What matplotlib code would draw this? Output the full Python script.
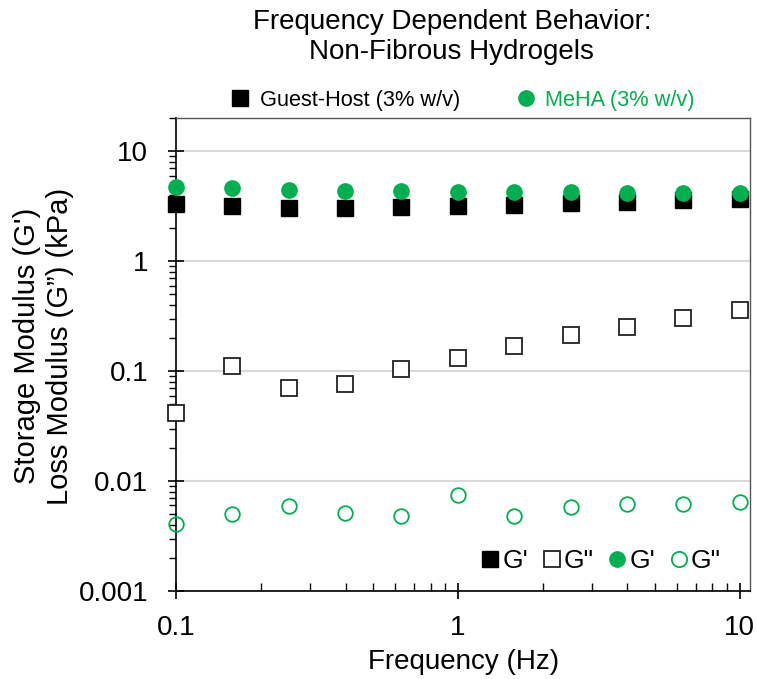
import matplotlib
matplotlib.use("Agg")
import matplotlib.pyplot as plt
from matplotlib.lines import Line2D
from matplotlib.ticker import LogLocator, FixedFormatter, FixedLocator, NullFormatter

plt.rcParams['font.family'] = ['Liberation Sans', 'DejaVu Sans']

# frequency sweep (Hz)
freq = [0.1, 0.158, 0.251, 0.398, 0.631, 1.0, 1.585, 2.512, 3.981, 6.31, 10.0]

# Guest-Host (3% w/v), kPa
gh_storage = [3.34, 3.18, 3.07, 3.07, 3.11, 3.18, 3.24, 3.38, 3.48, 3.60, 3.70]
gh_loss = [0.0412, 0.112, 0.0695, 0.0767, 0.1035, 0.133, 0.171, 0.211, 0.251, 0.303, 0.356]

# MeHA (3% w/v), kPa
meha_storage = [4.76, 4.60, 4.41, 4.31, 4.31, 4.28, 4.26, 4.26, 4.17, 4.17, 4.17]
meha_loss = [0.00403, 0.00497, 0.00596, 0.00514, 0.0048, 0.00745, 0.00486, 0.00583, 0.00625, 0.00617, 0.00649]

green = '#00b050'

fig = plt.figure(figsize=(7.57, 6.79), dpi=100)
ax = fig.add_axes([0.2325, 0.1296, 0.7585, 0.6964])

ax.plot(freq, gh_storage, ls='none', marker='s', ms=11.5, mfc='black', mec='black', mew=1, clip_on=False, zorder=3)
ax.plot(freq, gh_loss, ls='none', marker='s', ms=11, mfc='white', mec='#222222', mew=1.3, clip_on=False, zorder=3)
ax.plot(freq, meha_storage, ls='none', marker='o', ms=11, mfc=green, mec=green, mew=1, clip_on=False, zorder=3)
ax.plot(freq, meha_loss, ls='none', marker='o', ms=10.5, mfc='none', mec=green, mew=1.3, clip_on=False, zorder=3)

ax.set_xscale('log')
ax.set_yscale('log')
ax.set_xlim(0.1, 10.9)
ax.set_ylim(0.001, 20)

ax.yaxis.set_major_locator(FixedLocator([0.001, 0.01, 0.1, 1, 10]))
ax.yaxis.set_major_formatter(FixedFormatter(['0.001', '0.01', '0.1', '1', '10']))
ax.yaxis.set_minor_locator(LogLocator(base=10, subs=range(2, 10)))
ax.yaxis.set_minor_formatter(NullFormatter())
ax.xaxis.set_major_locator(FixedLocator([0.1, 1, 10]))
ax.xaxis.set_major_formatter(FixedFormatter(['0.1', '1', '10']))
ax.xaxis.set_minor_locator(LogLocator(base=10, subs=range(2, 10)))
ax.xaxis.set_minor_formatter(NullFormatter())

ax.tick_params(axis='both', which='major', direction='inout', length=12, width=1.2,
               labelsize=20, color='black')
ax.tick_params(axis='y', which='major', pad=14)
ax.tick_params(axis='x', which='major', pad=11)
ax.tick_params(axis='y', which='minor', direction='out', length=5, width=1)
ax.tick_params(axis='x', which='minor', direction='in', length=6, width=1)

ax.grid(True, which='major', axis='y', color='#d9d9d9', lw=1.5)
ax.set_axisbelow(True)
for side in ['left', 'bottom']:
    ax.spines[side].set_linewidth(1.2)
    ax.spines[side].set_color('black')
for side in ['top', 'right']:
    ax.spines[side].set_linewidth(1)
    ax.spines[side].set_color('#555555')

ax.set_xlabel('Frequency (Hz)', fontsize=20, labelpad=6)
ax.text(-0.231, 0.518, "Storage Modulus (G')\nLoss Modulus (G\u201d) (kPa)", transform=ax.transAxes,
        rotation=90, ha='center', va='center', fontsize=21, linespacing=1.2)

fig.text(0.597, 0.946, 'Frequency Dependent Behavior:\nNon-Fibrous Hydrogels',
         ha='center', va='center', fontsize=20, linespacing=1.2)

# sample key above the plot
top_handles = [
    Line2D([], [], ls='none', marker='s', ms=11, mfc='black', mec='black'),
    Line2D([], [], ls='none', marker='o', ms=11, mfc=green, mec=green),
]
top_leg = fig.legend(top_handles, ['Guest-Host (3% w/v)', 'MeHA (3% w/v)'],
                     loc='center', bbox_to_anchor=(0.612, 0.852), ncol=2, frameon=False,
                     fontsize=15.7, handlelength=0.8, handletextpad=0.5, columnspacing=2.6)
top_leg.get_texts()[1].set_color(green)

# modulus key inside the plot
mod_handles = [
    Line2D([], [], ls='none', marker='s', ms=11, mfc='black', mec='black'),
    Line2D([], [], ls='none', marker='s', ms=11, mfc='white', mec='#222222', mew=1.3),
    Line2D([], [], ls='none', marker='o', ms=11, mfc=green, mec=green),
    Line2D([], [], ls='none', marker='o', ms=11, mfc='none', mec=green, mew=1.3),
]
ax.legend(mod_handles, ["G'", 'G"', "G'", 'G"'], loc='lower right',
          bbox_to_anchor=(0.99, -0.012), ncol=4, frameon=False, fontsize=19,
          handlelength=0.7, handletextpad=0.1, columnspacing=0.55)

fig.savefig('out.png', dpi=100)
